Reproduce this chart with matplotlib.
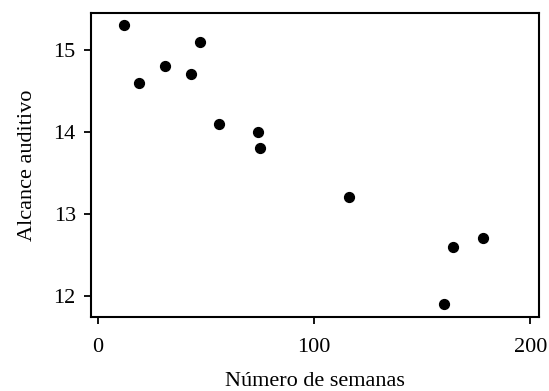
import matplotlib.pyplot as plt

# Datos
semanas = [12, 19, 31, 43, 47, 56, 74, 75, 116, 160, 164, 178]
alcance = [15.3, 14.6, 14.8, 14.7, 15.1, 14.1, 14.0, 13.8, 13.2, 11.9, 12.6, 12.7]

plt.rcParams['font.family'] = 'Liberation Serif'

fig = plt.figure(figsize=(5.49, 3.91), dpi=100)
ax = fig.add_axes([0.166, 0.189, 0.816, 0.778])

ax.scatter(semanas, alcance, s=50, color='black', zorder=3)

ax.set_xlim(-3.2, 204)
ax.set_ylim(11.74, 15.45)
ax.set_xticks([0, 100, 200])
ax.set_yticks([12, 13, 14, 15])

for sp in ax.spines.values():
    sp.set_linewidth(1.5)
ax.tick_params(axis='x', direction='out', length=5, width=1.3, labelsize=16, pad=10)
ax.tick_params(axis='y', direction='out', length=5, width=1.3, labelsize=16, pad=6)

ax.set_xlabel("Número de semanas", fontsize=16, labelpad=11)
ax.set_ylabel("Alcance auditivo", fontsize=16, labelpad=12)

plt.savefig("out.png", dpi=100)
